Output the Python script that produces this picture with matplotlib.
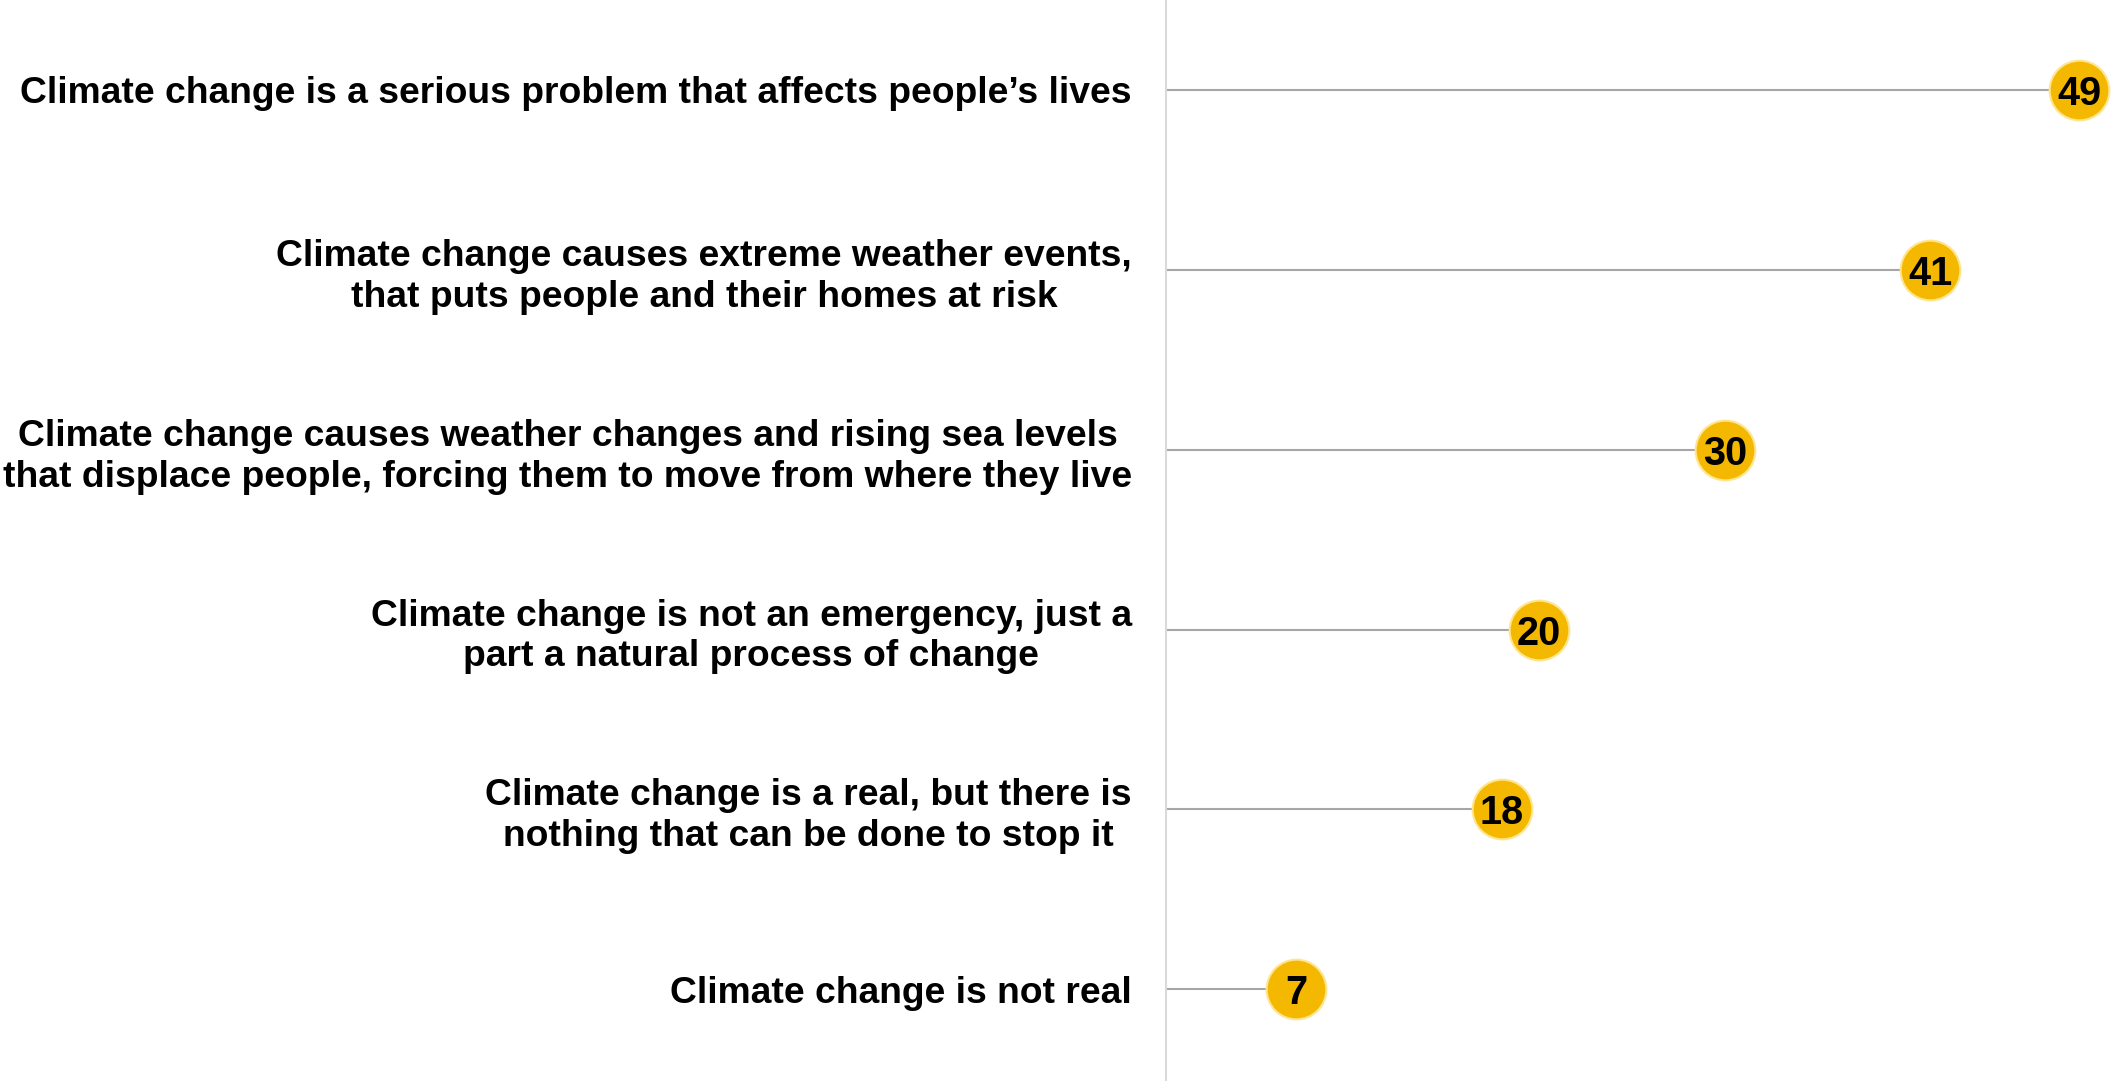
import numpy as np
import matplotlib
matplotlib.use("Agg")
import matplotlib.pyplot as plt

statements = [
    "Climate change is a serious problem that affects people\u2019s lives",
    "Climate change causes extreme weather events,\nthat puts people and their homes at risk",
    "Climate change causes weather changes and rising sea levels\nthat displace people, forcing them to move from where they live",
    "Climate change is not an emergency, just a\npart a natural process of change",
    "Climate change is a real, but there is\nnothing that can be done to stop it",
    "Climate change is not real",
]
values = [49, 41, 30, 20, 18, 7]

plt.rcParams['font.family'] = ['Liberation Sans', 'DejaVu Sans']

W, H = 2113, 1081
fig = plt.figure(figsize=(W / 100, H / 100), dpi=100)
ax = fig.add_axes([1166 / W, 0, 947 / W, 1])

y = np.arange(len(values))
ax.hlines(y, 0, values, color='#a6a6a6', lw=1.5, zorder=1)
ax.scatter(values, y, s=43 ** 2, color='#f5b800', edgecolor='#ffe58f', linewidth=1.5, zorder=2)
for v, yy in zip(values, y):
    ax.text(v, yy, str(v), ha='center', va='center_baseline', fontsize=28.5, fontweight='bold', color='black', zorder=3)

ax.set_xlim(0, 50.8)
ax.set_ylim(5.51, -0.5)
ax.set_xticks([])
ax.set_yticks(y)
ax.set_yticklabels(statements, fontsize=26.8, fontweight='bold')
for lbl in ax.get_yticklabels():
    lbl.set_multialignment('center')
    lbl.set_linespacing(1.22)
ax.tick_params(axis='y', length=0, pad=24.5)
for s in ['top', 'right', 'bottom']:
    ax.spines[s].set_visible(False)
ax.spines['left'].set_color('#d9d9d9')
ax.spines['left'].set_linewidth(1.5)

fig.savefig('out.png', dpi=100)
